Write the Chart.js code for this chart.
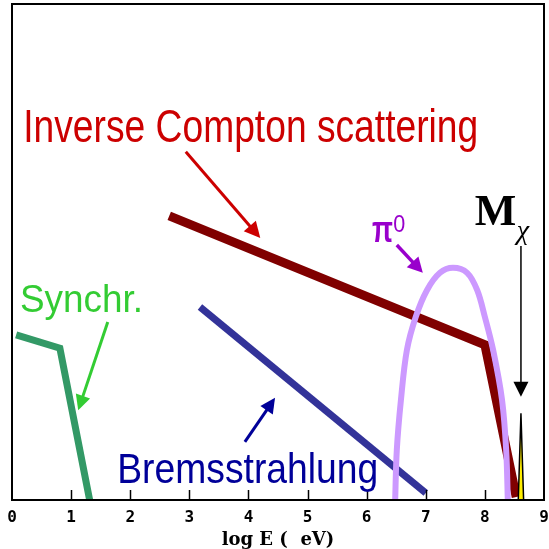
<!DOCTYPE html>
<html>
<head>
<meta charset="utf-8">
<script src="https://cdn.jsdelivr.net/npm/chart.js@4/dist/chart.umd.min.js"></script>
<style>
  html, body { margin: 0; padding: 0; background: #fff; }
  #wrap { width: 549px; height: 549px; }
</style>
</head>
<body>
<div id="wrap"><canvas id="c" width="549" height="549"></canvas></div>
<script>
// x = log E (eV), y = arbitrary flux units (axis not labelled)
const xTicks = [0, 1, 2, 3, 4, 5, 6, 7, 8, 9]

const synchX = [0.07, 0.81, 1.33]
const synchY = [33.3, 30.6, -1]

const bremsX = [3.18, 7.0]
const bremsY = [38.9, 1.4]

const icX = [2.66, 8.0, 8.53]
const icY = [57.3, 31.3, 0.6]

const pi0X = [6.48, 6.51, 6.58, 6.68, 6.83, 7.02, 7.24, 7.46, 7.70, 7.87, 8.00, 8.14, 8.29, 8.36, 8.39]
const pi0Y = [-1, 10.1, 20.2, 30.2, 36.9, 42.3, 45.8, 46.8, 45.8, 42.3, 36.9, 30.2, 20.2, 10.1, -1]

const mchiX = [8.565, 8.61, 8.655]
const mchiY = [0, 17.5, 0]

function pts(xs, ys) {
    return xs.map((x, i) => ({ x: x, y: ys[i] }))
}

// labels and arrows, anchored in data units
const labels = [
    { text: 'Inverse Compton scattering', x: 0.19, y: 72.2, size: 46, width: 455, color: '#cc0000' },
    { text: 'Synchr.', x: 0.135, y: 37.9, size: 38, width: 123, color: '#33cc33' },
    { text: 'Bremsstrahlung', x: 1.78, y: 3.43, size: 42, width: 261, color: '#000099' },
    { text: '\u03c0', x: 6.09, y: 52.0, size: 36, width: 21, color: '#9900cc', bold: true },
    { text: '0', x: 6.45, y: 54.0, size: 24, width: 12, color: '#9900cc' },
    { text: 'M', x: 7.83, y: 55.4, size: 44, color: '#000', serif: true, bold: true },
    { text: '\u03c7', x: 8.54, y: 52.6, size: 28, color: '#000', serif: true, italic: true }
]

const arrows = [
    { x1: 2.94, y1: 70.2, x2: 4.20, y2: 52.8, color: '#cc0000', w: 3, head: 16, hw: 16 },
    { x1: 6.51, y1: 51.4, x2: 6.95, y2: 45.8, color: '#9900cc', w: 3.5, head: 15, hw: 16 },
    { x1: 1.62, y1: 35.9, x2: 1.12, y2: 18.1, color: '#33cc33', w: 3, head: 15, hw: 15 },
    { x1: 3.94, y1: 11.7, x2: 4.45, y2: 20.6, color: '#000099', w: 3, head: 15, hw: 15 },
    { x1: 8.61, y1: 51.2, x2: 8.61, y2: 20.8, color: '#000', w: 1.5, head: 15, hw: 15 }
]

const framePlugin = {
    id: 'frame',
    afterDatasetsDraw(chart) {
        const ctx = chart.ctx
        const a = chart.chartArea
        const xs = chart.scales.x
        ctx.save()
        ctx.strokeStyle = '#000'
        ctx.lineWidth = 1.5
        xTicks.slice(1, -1).forEach(v => {
            const px = Math.round(xs.getPixelForValue(v)) + 0.5
            ctx.beginPath()
            ctx.moveTo(px, a.bottom)
            ctx.lineTo(px, a.bottom - 10)
            ctx.stroke()
        })
        ctx.lineWidth = 2
        ctx.strokeRect(a.left, a.top, a.right - a.left, a.bottom - a.top)
        ctx.restore()
    }
}

const notePlugin = {
    id: 'notes',
    afterDraw(chart) {
        const ctx = chart.ctx
        const xs = chart.scales.x
        const ys = chart.scales.y
        ctx.save()
        arrows.forEach(ar => {
            const x1 = xs.getPixelForValue(ar.x1), y1 = ys.getPixelForValue(ar.y1)
            const x2 = xs.getPixelForValue(ar.x2), y2 = ys.getPixelForValue(ar.y2)
            const ang = Math.atan2(y2 - y1, x2 - x1)
            const bx = x2 - Math.cos(ang) * ar.head, by = y2 - Math.sin(ang) * ar.head
            ctx.strokeStyle = ar.color
            ctx.fillStyle = ar.color
            ctx.lineWidth = ar.w
            ctx.beginPath()
            ctx.moveTo(x1, y1)
            ctx.lineTo(bx + Math.cos(ang) * 2, by + Math.sin(ang) * 2)
            ctx.stroke()
            const nx = -Math.sin(ang) * ar.hw / 2, ny = Math.cos(ang) * ar.hw / 2
            ctx.beginPath()
            ctx.moveTo(x2, y2)
            ctx.lineTo(bx + nx, by + ny)
            ctx.lineTo(bx - nx, by - ny)
            ctx.closePath()
            ctx.fill()
        })
        labels.forEach(l => {
            const px = xs.getPixelForValue(l.x), py = ys.getPixelForValue(l.y)
            const fam = l.serif ? '"Liberation Serif", "Times New Roman", serif'
                : '"Liberation Sans Narrow", "Arial Narrow", "Liberation Sans", Arial, sans-serif'
            ctx.font = (l.italic ? 'italic ' : '') + (l.bold ? 'bold ' : '') + l.size + 'px ' + fam
            ctx.fillStyle = l.color
            ctx.textBaseline = 'alphabetic'
            ctx.textAlign = 'left'
            const m = ctx.measureText(l.text).width
            ctx.save()
            ctx.translate(px, py)
            if (l.width) ctx.scale(l.width / m, 1)
            ctx.fillText(l.text, 0, 0)
            ctx.restore()
        })
        ctx.restore()
    }
}

new Chart(document.getElementById('c'), {
    type: 'line',
    data: {
        datasets: [
            { data: pts(mchiX, mchiY), borderColor: '#000', backgroundColor: '#ffee00', borderWidth: 1.5, fill: 'origin', tension: 0, pointRadius: 0, clip: 0 },
            { data: pts(pi0X, pi0Y), borderColor: '#cc99ff', borderWidth: 6, tension: 0.35, pointRadius: 0, fill: false, clip: 0 },
            { data: pts(icX, icY), borderColor: '#800000', borderWidth: 9, tension: 0, pointRadius: 0, fill: false, clip: 0, borderJoinStyle: 'miter' },
            { data: pts(bremsX, bremsY), borderColor: '#333399', borderWidth: 7, tension: 0, pointRadius: 0, fill: false, clip: 0 },
            { data: pts(synchX, synchY), borderColor: '#339966', borderWidth: 7, tension: 0, pointRadius: 0, fill: false, clip: 0, borderJoinStyle: 'miter' }
        ]
    },
    options: {
        responsive: false,
        animation: false,
        layout: { autoPadding: false, padding: { left: 12, right: 5, top: 4, bottom: 0 } },
        plugins: { legend: { display: false }, tooltip: { enabled: false } },
        scales: {
            x: {
                type: 'linear', min: 0, max: 9,
                afterBuildTicks(scale) { scale.ticks = xTicks.map(v => ({ value: v })) },
                afterFit(scale) {
                    scale.height = 49
                    scale.paddingLeft = 0
                    scale.paddingRight = 0
                },
                grid: { display: false, drawTicks: false },
                border: { display: false },
                ticks: { padding: 8, color: '#000', font: { family: '"DejaVu Sans Mono", monospace', size: 16, weight: 'bold' }, maxRotation: 0 },
                title: { display: true, text: 'log E (  eV)', color: '#000', padding: { top: 0, bottom: 0 }, font: { family: '"DejaVu Serif", serif', size: 18, weight: 'bold', lineHeight: 1 } }
            },
            y: {
                display: false, min: 0, max: 100
            }
        }
    },
    plugins: [framePlugin, notePlugin]
})
</script>
</body>
</html>
